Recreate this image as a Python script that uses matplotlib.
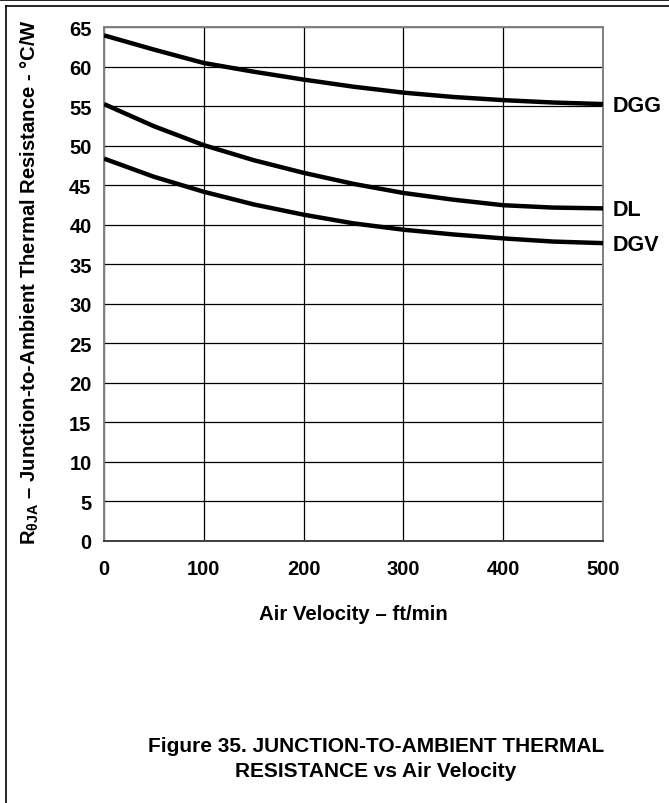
import numpy as np
import matplotlib
matplotlib.use('Agg')
import matplotlib.pyplot as plt
from matplotlib.lines import Line2D

plt.rcParams['font.family'] = ['Liberation Sans', 'DejaVu Sans']
plt.rcParams['font.weight'] = 'bold'
plt.rcParams['mathtext.fontset'] = 'custom'
plt.rcParams['mathtext.rm'] = 'Liberation Sans:bold'
plt.rcParams['mathtext.it'] = 'Liberation Sans:bold'
plt.rcParams['mathtext.bf'] = 'Liberation Sans:bold'

# ── data ────────────────────────────────────────────────────────────────────
air_velocity = [0, 50, 100, 150, 200, 250, 300, 350, 400, 450, 500]
r_dgg = [64.0, 62.2, 60.5, 59.4, 58.4, 57.5, 56.75, 56.2, 55.8, 55.5, 55.3]
r_dl = [55.3, 52.5, 50.1, 48.2, 46.6, 45.2, 44.05, 43.2, 42.5, 42.2, 42.1]
r_dgv = [48.4, 46.1, 44.2, 42.6, 41.3, 40.2, 39.4, 38.8, 38.3, 37.9, 37.7]
series_names = ['DGG', 'DL', 'DGV']
x_ticks = [0, 100, 200, 300, 400, 500]
y_ticks = list(range(0, 70, 5))

fig = plt.figure(figsize=(6.69, 8.04), dpi=100)
ax = fig.add_axes([0.1555, 0.3259, 0.7459, 0.6387])

for name, vals in zip(series_names, [r_dgg, r_dl, r_dgv]):
    ax.plot(air_velocity, vals, color='black', lw=3.2, solid_capstyle='butt', zorder=3)
    ax.annotate(name, (air_velocity[-1], vals[-1]), xytext=(7, -1),
                textcoords='offset points', va='center', ha='left',
                fontsize=15.5, fontweight='bold', annotation_clip=False)

ax.set_xlim(0, 500)
ax.set_ylim(0, 65)
ax.set_xticks(x_ticks)
ax.set_yticks(y_ticks)
ax.grid(True, color='black', lw=0.9)
ax.tick_params(length=0, labelsize=14.5)
ax.tick_params(axis='x', pad=13)
ax.tick_params(axis='y', pad=9)
for lbl in ax.get_xticklabels() + ax.get_yticklabels():
    lbl.set_fontweight('bold')
for side in ('left', 'right', 'top'):
    ax.spines[side].set_color('#808080')
    ax.spines[side].set_linewidth(1.4)
ax.spines['bottom'].set_color('#404040')
ax.spines['bottom'].set_linewidth(1.4)

ax.set_xlabel('Air Velocity \u2013 ft/min', fontsize=14.7, fontweight='bold', labelpad=19)
fig.text(0.045, 0.649,
         r'R$_{\theta\mathrm{JA}}$' + ' \u2013 Junction-to-Ambient Thermal Resistance - \u00b0C/W',
         rotation=90, ha='center', va='center', fontsize=14.6, fontweight='bold')

fig.text(0.562, 0.072, 'Figure 35. JUNCTION-TO-AMBIENT THERMAL',
         ha='center', va='center', fontsize=15, fontweight='bold')
fig.text(0.562, 0.041, 'RESISTANCE vs Air Velocity',
         ha='center', va='center', fontsize=15, fontweight='bold')

# page frame lines
fig.add_artist(Line2D([0, 1], [0.9985, 0.9985], color='black', lw=1.2, transform=fig.transFigure))
fig.add_artist(Line2D([0.009, 1], [0.991, 0.991], color='black', lw=1.2, transform=fig.transFigure))
fig.add_artist(Line2D([0.009, 0.009], [0, 0.991], color='black', lw=1.2, transform=fig.transFigure))

fig.savefig('out.png', dpi=100)
